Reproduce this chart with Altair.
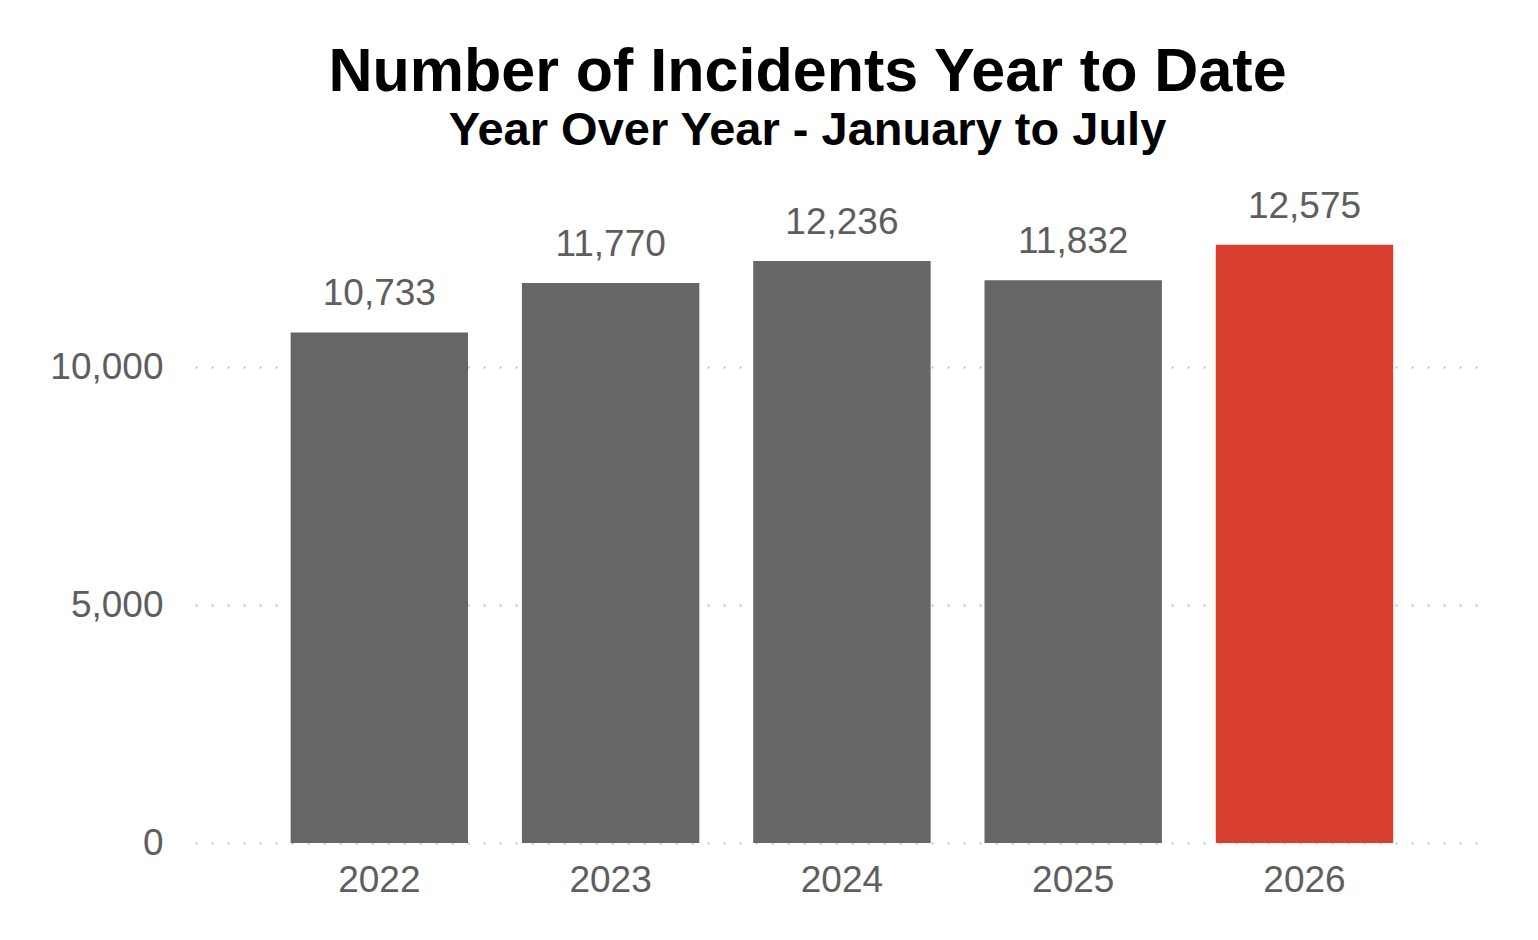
import altair as alt
import pandas as pd

years = ["2022", "2023", "2024", "2025", "2026"]
incidents = [10733, 11770, 12236, 11832, 12575]
bar_colors = ["#656667", "#656667", "#656667", "#656667", "#d83f2f"]

df = pd.DataFrame({"year": years, "incidents": incidents, "color": bar_colors})

font = "Liberation Sans"
label_grey = "#5e5e5e"

base = alt.Chart(df).encode(
    x=alt.X("year:N", title=None, sort=years,
            scale=alt.Scale(paddingInner=0.233, paddingOuter=0.39, align=0.53),
            axis=alt.Axis(labelAngle=0, ticks=False, domain=False, labelPadding=19,
                          labelFontSize=37, labelColor=label_grey, labelFont=font)),
    y=alt.Y("incidents:Q", title=None,
            scale=alt.Scale(domain=[0, 14000], nice=False),
            axis=alt.Axis(values=[0, 5000, 10000], format=",.0f", ticks=False, domain=False,
                          labelPadding=32, labelFontSize=37, labelColor=label_grey, labelFont=font,
                          grid=True, gridColor="#c4c4c4", gridDash=[2, 14], gridWidth=2)),
)

bars = base.mark_bar().encode(color=alt.Color("color:N", scale=None))

labels = base.mark_text(baseline="alphabetic", dy=-27, fontSize=37, font=font, color=label_grey).encode(
    text=alt.Text("incidents:Q", format=",")
)

chart = (bars + labels).properties(
    width=1283,
    height=666,
    padding={"left": 187, "top": 169, "right": 50, "bottom": 60},
    autosize=alt.AutoSizeParams(type="none"),
    title=alt.TitleParams(
        text="Number of Incidents Year to Date",
        subtitle="Year Over Year - January to July",
        anchor="middle",
        frame="group",
        dx=-29,
        offset=22,
        font=font,
        fontSize=61,
        fontWeight="bold",
        color="#000000",
        subtitleFont=font,
        subtitleFontSize=47,
        subtitleFontWeight="bold",
        subtitleColor="#000000",
        subtitlePadding=4,
    ),
).configure_view(stroke=None)

chart.save("out.html", embed_options={"renderer": "svg", "actions": False})
